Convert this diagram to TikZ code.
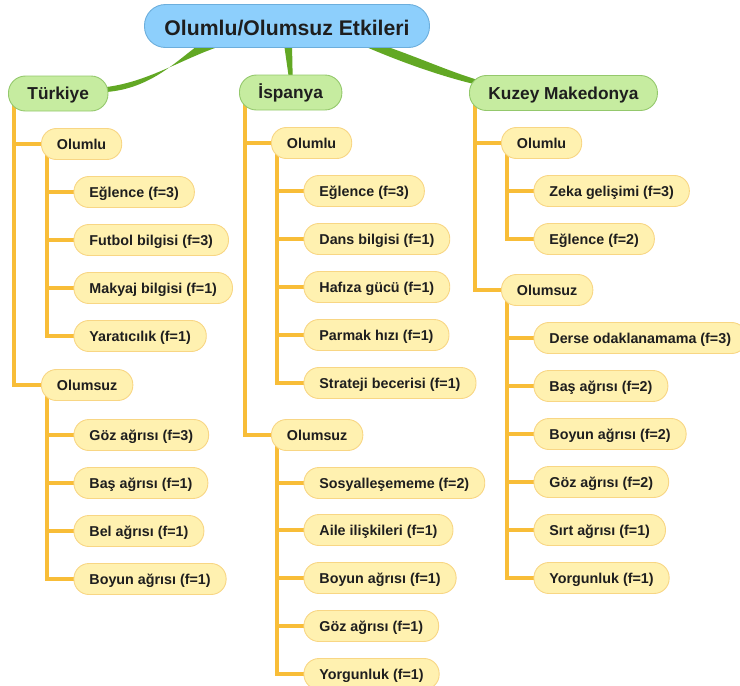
\documentclass[tikz,border=0pt]{standalone}
\usepackage{fontspec}
\setmainfont{Liberation Sans}
\usetikzlibrary{calc,backgrounds}

\definecolor{ink}{HTML}{1E1E1E}
\definecolor{rootfill}{HTML}{8DCFFC}
\definecolor{rootline}{HTML}{6CAEDC}
\definecolor{landfill}{HTML}{C6ECA0}
\definecolor{landline}{HTML}{94C86C}
\definecolor{itemfill}{HTML}{FFF1B0}
\definecolor{itemline}{HTML}{F8D684}
\definecolor{twig}{HTML}{F8BD38}
\definecolor{bough}{HTML}{62A824}

% text height/depth in pt so that capitals sit in the middle of each box
\tikzset{
  boxbase/.style={rectangle, draw, line width=0.9pt, text=ink, anchor=west},
  rootbox/.style={boxbase, fill=rootfill, draw=rootline, rounded corners=21pt,
    minimum height=43pt, inner xsep=20pt, inner ysep=0pt, anchor=center,
    text height=19pt, text depth=0.2pt,
    font=\fontsize{21.2}{24}\selectfont\bfseries},
  landbox/.style={boxbase, fill=landfill, draw=landline, rounded corners=17pt,
    minimum height=35pt, inner xsep=19pt, inner ysep=0pt,
    text height=16pt, text depth=3.62pt,
    font=\fontsize{17.3}{20}\selectfont\bfseries},
  itembox/.style={boxbase, fill=itemfill, draw=itemline, rounded corners=15pt,
    minimum height=31pt, inner xsep=15.5pt, inner ysep=0pt,
    text height=13pt, text depth=2.76pt,
    font=\fontsize{14.3}{17}\selectfont\bfseries},
  twigline/.style={draw=twig, line width=3.2pt},
  boughfill/.style={fill=bough}
}

\begin{document}
\begin{tikzpicture}[x=1pt, y=-1pt]
\useasboundingbox (0,0) rectangle (740,686);

% central topic and the three countries
\node[rootbox] (root) at (287,26) {Olumlu/Olumsuz Etkileri};
\node[landbox] (tr) at (8,93.5) {Türkiye};
\node[landbox] (es) at (239,92.5) {İspanya};
\node[landbox] (km) at (469,93) {Kuzey Makedonya};

% tapered branches from the centre
\begin{scope}[on background layer]
  \fill[boughfill] ($(root.south)+(-59,-4)$) .. controls +(-38,10) and +(45,-5.5) ..
    ($(tr.east)+(-2,-6.5)$) -- ($(tr.east)+(-2,-1.5)$) .. controls +(45,-3.5) and +(-22,15.5) ..
    ($(root.south)+(-87,-4)$) -- cycle;
  \fill[boughfill] ($(root.south)+(-3,-4)$) -- ($(root.south)+(5,-4)$) --
    ($(es.north)+(2,2)$) -- ($(es.north)+(-2,2)$) -- cycle;
  \fill[boughfill] ($(root.south)+(92,-4)$) .. controls +(36,12) and +(-30,-9) ..
    ($(km.west)+(9,-13)$) -- ($(km.west)+(9,-8)$) .. controls +(-34,-8) and +(46,20) ..
    ($(root.south)+(72,-4)$) -- cycle;
\end{scope}

% category nodes
\node[itembox] (trp) at (41,144) {Olumlu};
\node[itembox] (trn) at (41,385) {Olumsuz};
\node[itembox] (esp) at (271,143) {Olumlu};
\node[itembox] (esn) at (271,435) {Olumsuz};
\node[itembox] (kmp) at (501,143) {Olumlu};
\node[itembox] (kmn) at (501,290) {Olumsuz};

\begin{scope}[on background layer]
  \foreach \c/\k in {tr/trp, tr/trn, es/esp, es/esn, km/kmp, km/kmn}
    \draw[twigline] ($(\c.west)+(6,0)$) |- (\k.west);
\end{scope}

% leaves: text and height under each category
\foreach [count=\i] \t/\y in {Eğlence (f=3)/192, Futbol bilgisi (f=3)/240,
    Makyaj bilgisi (f=1)/288, Yaratıcılık (f=1)/336} {
  \node[itembox] (trp\i) at (73.5,\y) {\t};
  \begin{scope}[on background layer]
    \draw[twigline] ($(trp.west)+(6,0)$) |- (trp\i.west);
  \end{scope}
}
\foreach [count=\i] \t/\y in {Göz ağrısı (f=3)/435, Baş ağrısı (f=1)/483,
    Bel ağrısı (f=1)/531, Boyun ağrısı (f=1)/579} {
  \node[itembox] (trn\i) at (73.5,\y) {\t};
  \begin{scope}[on background layer]
    \draw[twigline] ($(trn.west)+(6,0)$) |- (trn\i.west);
  \end{scope}
}
\foreach [count=\i] \t/\y in {Eğlence (f=3)/191, Dans bilgisi (f=1)/239,
    Hafıza gücü (f=1)/287, Parmak hızı (f=1)/335, Strateji becerisi (f=1)/383} {
  \node[itembox] (esp\i) at (303.5,\y) {\t};
  \begin{scope}[on background layer]
    \draw[twigline] ($(esp.west)+(6,0)$) |- (esp\i.west);
  \end{scope}
}
\foreach [count=\i] \t/\y in {Sosyalleşememe (f=2)/483, Aile ilişkileri (f=1)/530,
    Boyun ağrısı (f=1)/578, Göz ağrısı (f=1)/626, Yorgunluk (f=1)/674} {
  \node[itembox] (esn\i) at (303.5,\y) {\t};
  \begin{scope}[on background layer]
    \draw[twigline] ($(esn.west)+(6,0)$) |- (esn\i.west);
  \end{scope}
}
\foreach [count=\i] \t/\y in {Zeka gelişimi (f=3)/191, Eğlence (f=2)/239} {
  \node[itembox] (kmp\i) at (533.5,\y) {\t};
  \begin{scope}[on background layer]
    \draw[twigline] ($(kmp.west)+(6,0)$) |- (kmp\i.west);
  \end{scope}
}
\foreach [count=\i] \t/\y in {Derse odaklanamama (f=3)/338, Baş ağrısı (f=2)/386,
    Boyun ağrısı (f=2)/434, Göz ağrısı (f=2)/482, Sırt ağrısı (f=1)/530,
    Yorgunluk (f=1)/578} {
  \node[itembox] (kmn\i) at (533.5,\y) {\t};
  \begin{scope}[on background layer]
    \draw[twigline] ($(kmn.west)+(6,0)$) |- (kmn\i.west);
  \end{scope}
}
\end{tikzpicture}
\end{document}
